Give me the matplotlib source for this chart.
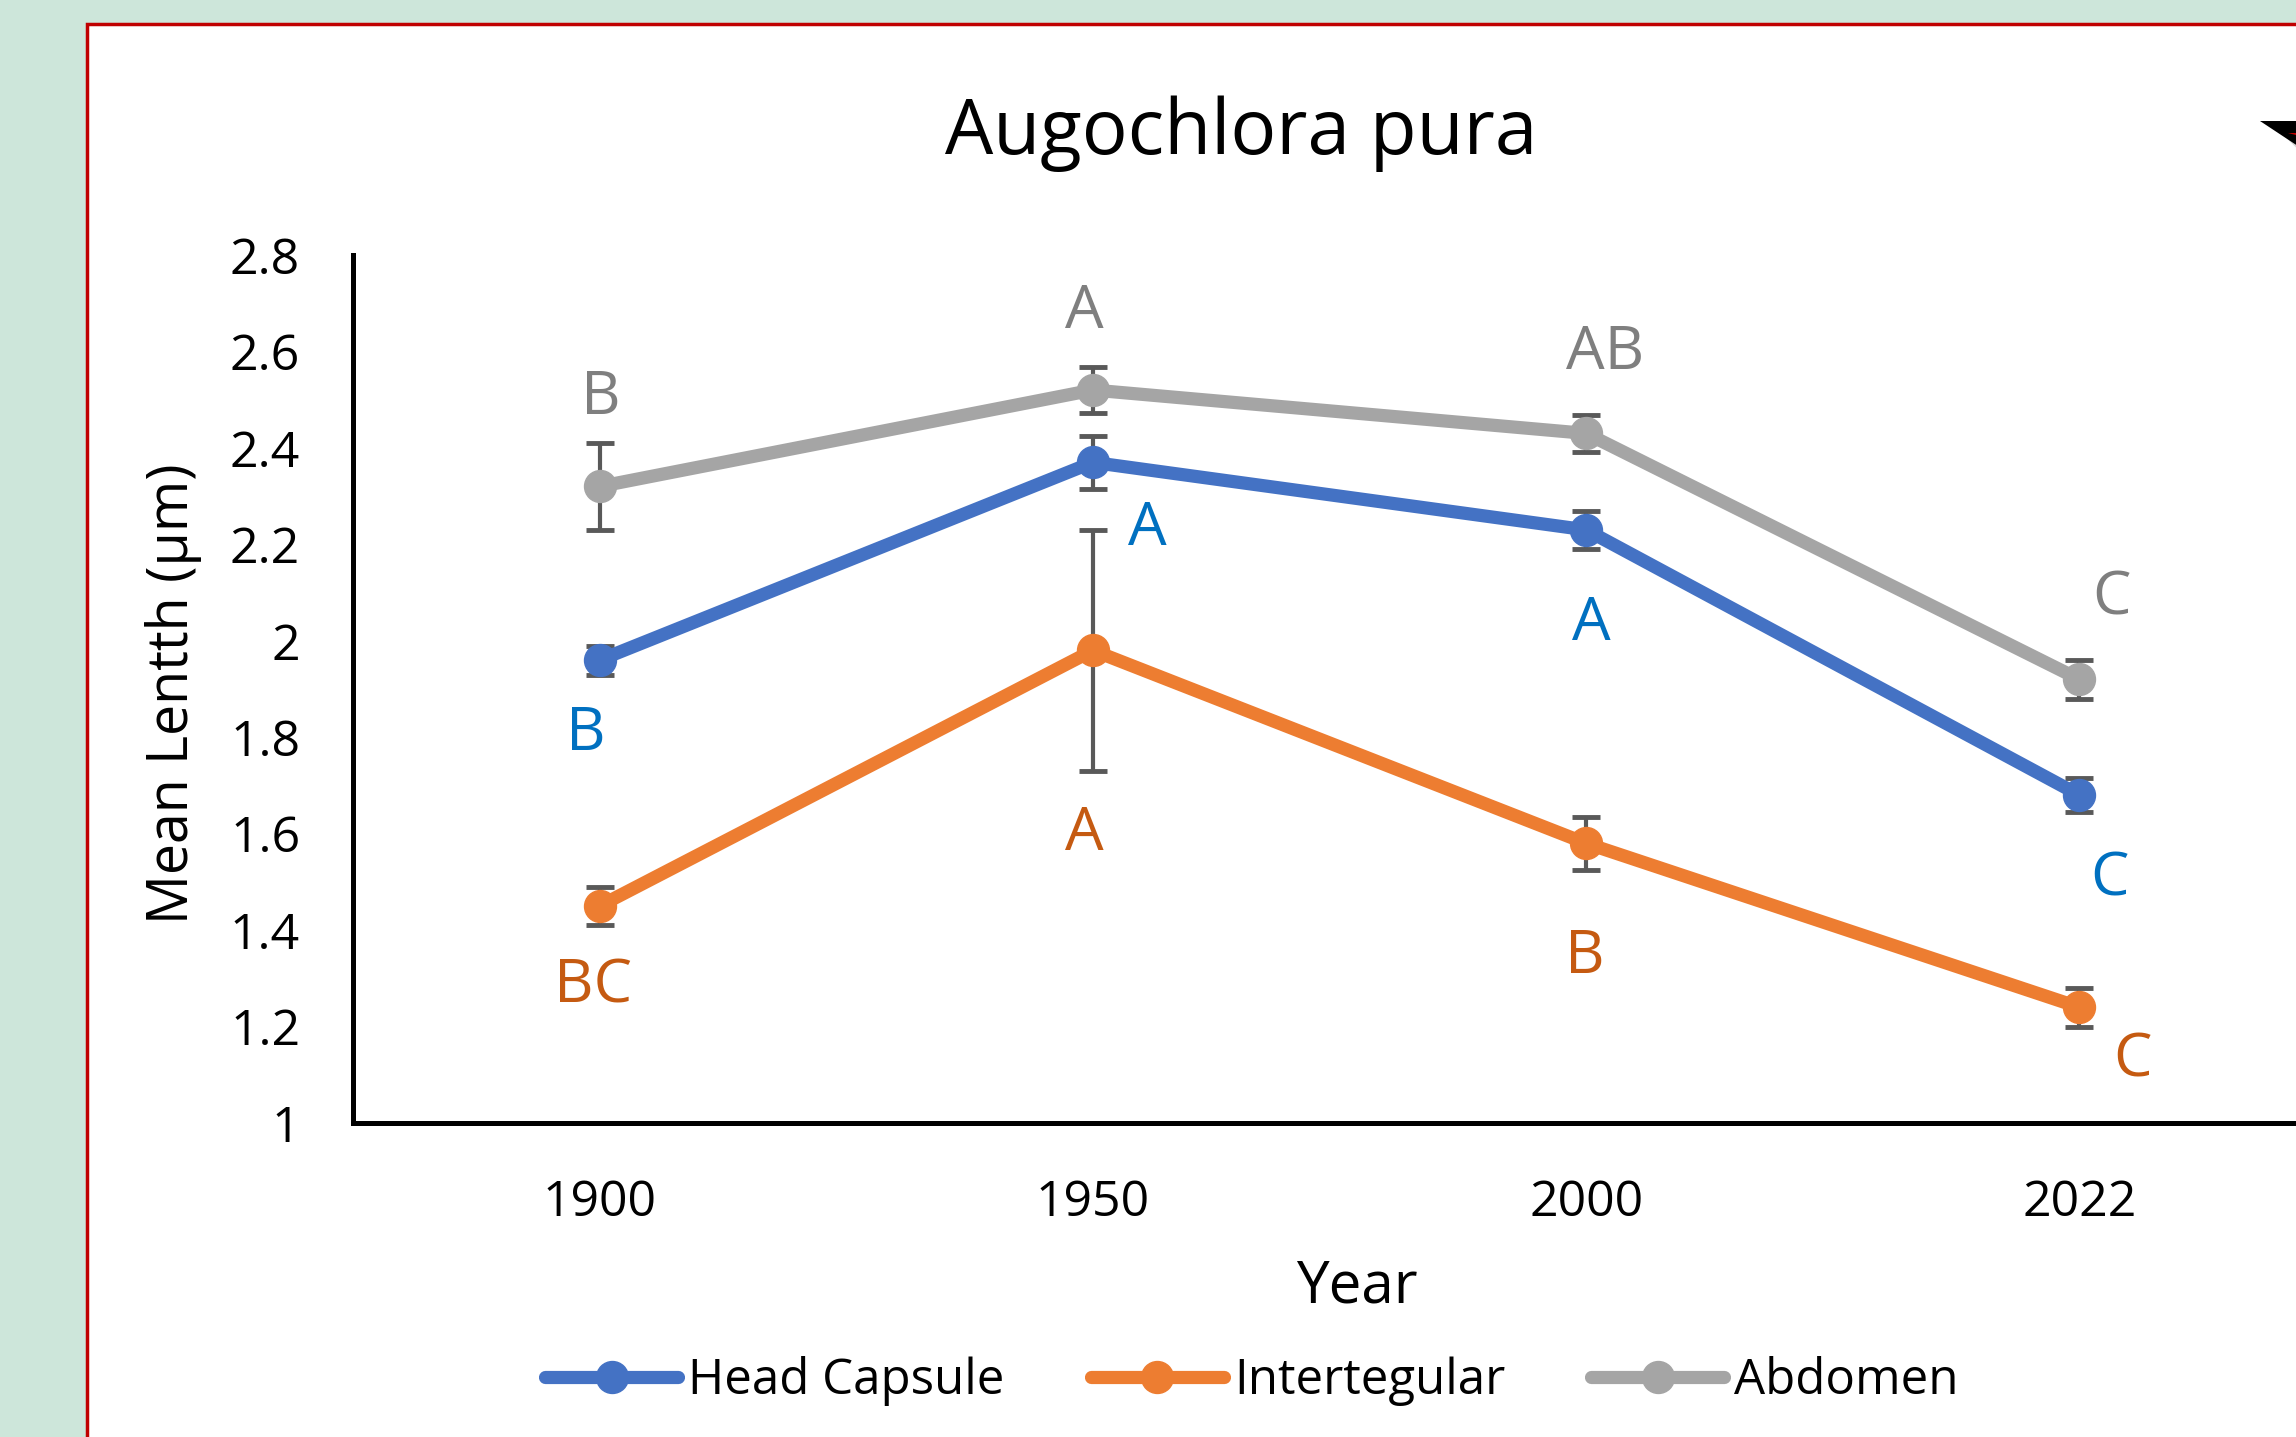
import matplotlib
matplotlib.use("Agg")
import matplotlib.pyplot as plt
from matplotlib.patches import Rectangle, Polygon

plt.rcParams['font.family'] = ['Open Sans', 'DejaVu Sans']

years = ['1900', '1950', '2000', '2022']

head_capsule = [1.96, 2.37, 2.23, 1.68]
head_err = [0.03, 0.055, 0.04, 0.035]
head_letters = ['B', 'A', 'A', 'C']

intertegular = [1.45, 1.98, 1.58, 1.24]
inter_err = [0.04, 0.25, 0.055, 0.04]
inter_letters = ['BC', 'A', 'B', 'C']

abdomen = [2.32, 2.52, 2.43, 1.92]
abdomen_err = [0.09, 0.048, 0.038, 0.04]
abdomen_letters = ['B', 'A', 'AB', 'C']

# offsets (points) of the significance letters from each marker
head_offsets = [(-10, -53), (39, -48), (4, -68), (22, -61)]
inter_offsets = [(-5, -58), (-6, -132), (-1, -82), (38, -38)]
abdomen_offsets = [(1, 64), (-6, 56), (14, 58), (23, 58)]

W, H = 2296, 1437
fig = plt.figure(figsize=(W / 100, H / 100), dpi=100)
fig.patch.set_facecolor('#CDE6DA')

# white chart panel with red outline
fig.patches.append(Rectangle((87 / W, -0.1), 1.2, 1 - 24 / H + 0.1, transform=fig.transFigure,
                             facecolor='white', edgecolor='#C00000', linewidth=2.5, zorder=-3))
# black corner shape (cut off at the right edge)
fig.patches.append(Polygon([(2272 / W, 1 - 124 / H), (1.01, 1 - 124 / H), (1.01, 1 - 170 / H)],
                           closed=True, transform=fig.transFigure, facecolor='#BBBBBB',
                           edgecolor='none', zorder=-2, alpha=0.6))
fig.patches.append(Polygon([(2260 / W, 1 - 121 / H), (1.01, 1 - 121 / H), (1.01, 1 - 160 / H)],
                           closed=True, transform=fig.transFigure, facecolor='black',
                           edgecolor='none', zorder=-1))
fig.patches.append(Polygon([(2288 / W, 1 - 133 / H), (1.01, 1 - 133 / H), (1.01, 1 - 141 / H)],
                           closed=True, transform=fig.transFigure, facecolor='#C00000',
                           edgecolor='none', zorder=-0.5))

ax = fig.add_axes([353 / W, 1 - 1123 / H, (2326 - 353) / W, (1123 - 255) / H])
ax.set_facecolor('none')
ax.set_zorder(2)

x = list(range(len(years)))
series = [
    ('Head Capsule', head_capsule, head_err, head_letters, head_offsets, '#4472C4', '#0070C0'),
    ('Intertegular', intertegular, inter_err, inter_letters, inter_offsets, '#ED7D31', '#C55A11'),
    ('Abdomen', abdomen, abdomen_err, abdomen_letters, abdomen_offsets, '#A5A5A5', '#7F7F7F'),
]

for i, (name, vals, errs, letters, offs, col, lcol) in enumerate(series):
    ax.errorbar(x, vals, yerr=errs, fmt='none', ecolor='#595959', elinewidth=3,
                capsize=10, capthick=3.5, zorder=2 + i * 2)
    ax.plot(x, vals, color=col, linewidth=9.5, marker='o', markersize=23,
            label=name, zorder=3 + i * 2, solid_capstyle='round')
    for xi, v, txt, off in zip(x, vals, letters, offs):
        ax.annotate(txt, (xi, v), xytext=off, textcoords='offset points',
                    ha='center', va='center', fontsize=44, color=lcol, zorder=10)

ax.set_xlim(-0.5, 3.5)
ax.set_ylim(1, 2.8)
ax.set_xticks(x)
ax.set_xticklabels(years)
ax.set_yticks([1, 1.2, 1.4, 1.6, 1.8, 2, 2.2, 2.4, 2.6, 2.8])
ax.set_yticklabels(['1', '1.2', '1.4', '1.6', '1.8', '2', '2.2', '2.4', '2.6', '2.8'])
ax.tick_params(axis='both', length=0, labelsize=36)
ax.tick_params(axis='y', pad=38)
ax.tick_params(axis='x', pad=40)
for s in ['top', 'right']:
    ax.spines[s].set_visible(False)
for s in ['left', 'bottom']:
    ax.spines[s].set_linewidth(3.6)
    ax.spines[s].set_color('black')

fig.text(1241 / W, 1 - 134 / H, 'Augochlora pura', ha='center', va='center', fontsize=55)
fig.text(1357 / W, 1 - 1287 / H, 'Year', ha='center', va='center', fontsize=42)
fig.text(173 / W, 1 - 694 / H, 'Mean Lentth (µm)', ha='center', va='center',
         fontsize=40, rotation=90)

fig.legend(loc='center', bbox_to_anchor=(1252 / W, 1 - 1381 / H), ncol=3, frameon=False,
           fontsize=35.5, handlelength=2.7, handletextpad=0.2, columnspacing=1.75,
           markerscale=1.0)

fig.savefig('out.png', dpi=100, facecolor=fig.get_facecolor())
